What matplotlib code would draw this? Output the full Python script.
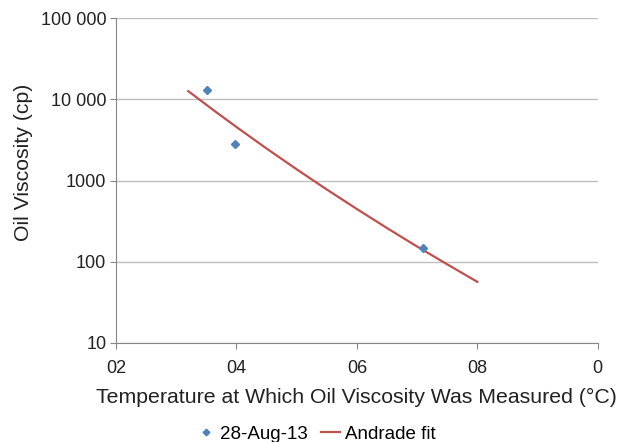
import matplotlib
matplotlib.use("Agg")
import matplotlib.pyplot as plt
from matplotlib.ticker import FixedLocator, NullLocator

plt.rcParams['font.family'] = ['Liberation Sans', 'DejaVu Sans']

# Measured data (28-Aug-13)
temp_meas = [35.1, 39.8, 70.9]
visc_meas = [12900, 2780, 148]

# Andrade fit line
temp_fit = [32, 36, 40, 45, 50, 55, 60, 65, 70, 75, 80]
visc_fit = [12600, 7530, 4560, 2480, 1375, 776, 446, 260, 154, 93, 56.6]

x_ticks = [20, 40, 60, 80, 100]
x_labels = ["02", "04", "06", "08", "0"]
y_ticks = [10, 100, 1000, 10000, 100000]
y_labels = ["10", "100", "1000", "10 000", "100 000"]

fig = plt.figure(figsize=(6.24, 4.42), dpi=100)
ax = fig.add_axes([0.186, 0.224, 0.772, 0.735])

ax.plot(temp_meas, visc_meas, linestyle='none', marker='D', markersize=4.5,
        color='#4F81BD', label='28-Aug-13', zorder=3)
ax.plot(temp_fit, visc_fit, color='#C0504D', linewidth=1.6, label='Andrade fit', zorder=2)

ax.set_yscale('log')
ax.set_xlim(20, 100)
ax.set_ylim(10, 100000)
ax.yaxis.set_major_locator(FixedLocator(y_ticks))
ax.yaxis.set_minor_locator(NullLocator())
ax.set_yticklabels(y_labels)
ax.set_xticks(x_ticks)
ax.set_xticklabels(x_labels)

ax.grid(axis='y', color='#BFBFBF', linewidth=1.0)
ax.set_axisbelow(True)
for s in ['top', 'right']:
    ax.spines[s].set_visible(False)
for s in ['left', 'bottom']:
    ax.spines[s].set_color('#868686')
ax.tick_params(axis='both', colors='#868686', labelcolor='#222222', labelsize=13, length=4)
ax.tick_params(axis='x', pad=8)
ax.tick_params(axis='y', pad=3)

ax.set_xlabel('Temperature at Which Oil Viscosity Was Measured (°C)', fontsize=15.3, color='#222222', labelpad=8)
ax.set_ylabel('Oil Viscosity (cp)', fontsize=15.3, color='#222222')
ax.yaxis.set_label_coords(-0.172, 0.555)

ax.legend(loc='upper center', bbox_to_anchor=(0.415, -0.22), ncol=2, frameon=False,
          fontsize=13.5, handlelength=1.0, columnspacing=0.7, handletextpad=0.25,
          markerscale=0.75, borderpad=0.1)

fig.savefig('out.png', dpi=100)
